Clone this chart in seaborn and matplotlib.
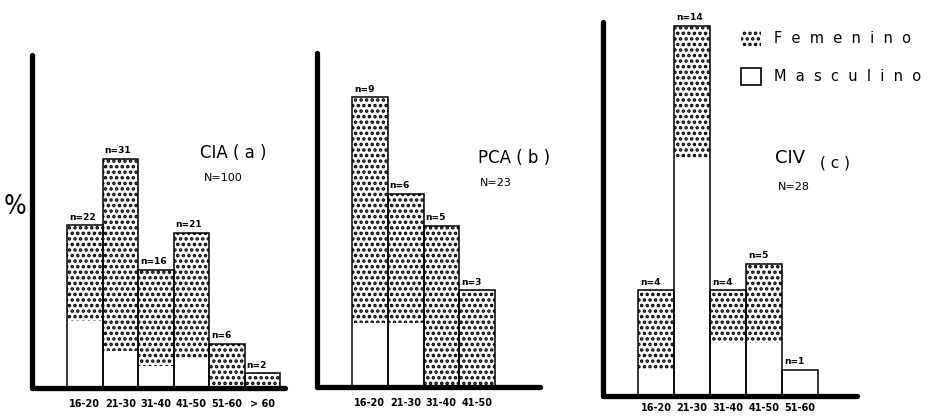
import matplotlib
matplotlib.use("Agg")
import matplotlib.pyplot as plt
from matplotlib.patches import Patch
import seaborn as sns
import pandas as pd

# CIA (a): patients per age group, split by sex
cia_groups = ["16-20", "21-30", "31-40", "41-50", "51-60", "> 60"]
cia_female = [13, 26, 13, 17, 6, 2]
cia_male = [9, 5, 3, 4, 0, 0]
cia_total_n = 100

# PCA (b)
pca_groups = ["16-20", "21-30", "31-40", "41-50"]
pca_female = [7, 4, 5, 3]
pca_male = [2, 2, 0, 0]
pca_total_n = 23

# CIV (c)
civ_groups = ["16-20", "21-30", "31-40", "41-50", "51-60"]
civ_female = [3, 5, 2, 3, 0]
civ_male = [1, 9, 2, 2, 1]
civ_total_n = 28

legend_labels = ["F  e  m  e  n  i  n  o", "M  a  s  c  u  l  i  n  o"]

W, H = 931, 416
PX_PER_PCT = 7.4
DOTS = "..."

sns.set_style("white")
plt.rcParams["font.family"] = ["DejaVu Sans"]
plt.rcParams["text.color"] = "black"
plt.rcParams["xtick.color"] = "black"
plt.rcParams["xtick.labelcolor"] = "black"
plt.rcParams["hatch.linewidth"] = 1.7
plt.rcParams["hatch.color"] = "black"

fig = plt.figure(figsize=(W / 100, H / 100), dpi=100)


def fx(x):
    return x / W


def fy(y):
    return 1 - y / H


def panel(left, right, base, top, first_left, bar_w, pad,
          groups, female, male, total_n):
    ax = fig.add_axes([fx(left), fy(base), (right - left) / W, (base - top) / H])
    counts = [f + m for f, m in zip(female, male)]
    df = pd.DataFrame({
        "grupo": groups,
        "total": [c / total_n * 100 for c in counts],
        "masc": [m / total_n * 100 for m in male],
    })
    # dotted column for the whole group, white lower part for men, outline on top
    sns.barplot(data=df, x="grupo", y="total", ax=ax, color="white",
                saturation=1, width=1, edgecolor="black", linewidth=0,
                hatch=DOTS, errorbar=None)
    sns.barplot(data=df, x="grupo", y="masc", ax=ax, color="white",
                saturation=1, width=1, edgecolor="white", linewidth=0,
                errorbar=None)
    sns.barplot(data=df, x="grupo", y="total", ax=ax, color="black",
                fill=False, width=1, linewidth=1.1, errorbar=None)
    for i, (t, n) in enumerate(zip(df["total"], counts)):
        ax.text(i - 0.45, t + 0.5, f"n={n}", ha="left", va="bottom",
                fontsize=6.5, fontweight="bold", color="black")
    x0 = -0.5 - (first_left - left) / bar_w
    ax.set_xlim(x0, x0 + (right - left) / bar_w)
    ax.set_ylim(0, (base - top) / PX_PER_PCT)
    ax.set_xlabel("")
    ax.set_ylabel("")
    ax.set_yticks([])
    ax.tick_params(axis="x", length=0, pad=pad, labelsize=7,
                   labelcolor="black")
    for lab in ax.get_xticklabels():
        lab.set_fontweight("bold")
    sns.despine(ax=ax)
    for side in ("left", "bottom"):
        ax.spines[side].set_linewidth(3.8)
        ax.spines[side].set_color("black")
        ax.spines[side].set_capstyle("round")
    ax.patch.set_alpha(0)
    return ax


panel(32, 285, 388, 55, 67, 35.5, 8,
      cia_groups, cia_female, cia_male, cia_total_n)
panel(317, 540, 387, 53, 352, 35.75, 8,
      pca_groups, pca_female, pca_male, pca_total_n)
panel(603, 857, 396, 22, 638, 36, 5,
      civ_groups, civ_female, civ_male, civ_total_n)

# percent sign beside the first axis
fig.text(fx(15), fy(207), "%", fontsize=19, ha="center", va="center",
         fontweight="light", fontstretch="condensed")

# panel captions
fig.text(fx(200), fy(153), "CIA ( a )", fontsize=12, ha="left", va="center")
fig.text(fx(204), fy(178), "N=100", fontsize=8, ha="left", va="center")
fig.text(fx(478), fy(158), "PCA ( b )", fontsize=12, ha="left", va="center")
fig.text(fx(480), fy(183), "N=23", fontsize=8, ha="left", va="center")
fig.text(fx(775), fy(158), "CIV", fontsize=13, ha="left", va="center")
fig.text(fx(820), fy(163), "( c )", fontsize=11, ha="left", va="center")
fig.text(fx(778), fy(187), "N=28", fontsize=8, ha="left", va="center")

handles = [
    Patch(facecolor="white", edgecolor="black", linewidth=0, hatch=DOTS),
    Patch(facecolor="white", edgecolor="black", linewidth=1.2),
]
fig.legend(handles=handles, labels=legend_labels, loc="upper left",
           bbox_to_anchor=(fx(741), fy(30)), frameon=False, fontsize=10.5,
           handlelength=1.35, handleheight=1.35, handletextpad=0.9,
           labelspacing=1.5, borderpad=0, borderaxespad=0,
           labelcolor="black")

fig.savefig("out.png", dpi=100)
